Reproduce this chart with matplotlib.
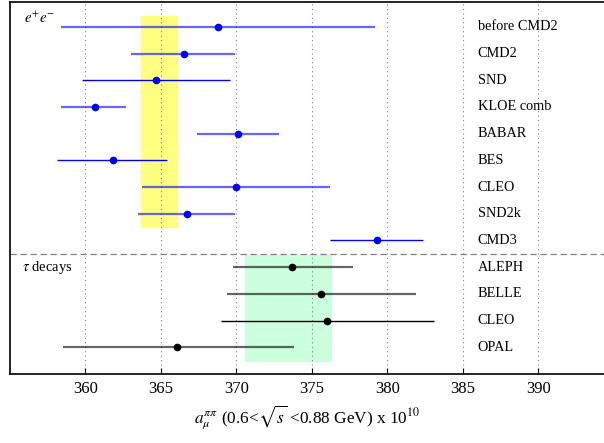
import numpy as np
import matplotlib.pyplot as plt

plt.rcParams['font.family'] = ['Liberation Serif', 'DejaVu Serif']
plt.rcParams['mathtext.fontset'] = 'stix'

# e+e- measurements
ee_names = ['before CMD2', 'CMD2', 'SND', 'KLOE comb', 'BABAR', 'BES', 'CLEO', 'SND2k', 'CMD3']
ee_val = [368.8, 366.5, 364.7, 360.6, 370.1, 361.8, 370.0, 366.7, 379.3]
ee_lo = [358.4, 363.05, 359.75, 358.4, 367.4, 358.1, 363.75, 363.45, 376.2]
ee_hi = [379.2, 369.9, 369.6, 362.7, 372.8, 365.4, 376.2, 369.9, 382.4]

# tau decay measurements
tau_names = ['ALEPH', 'BELLE', 'CLEO', 'OPAL']
tau_val = [373.7, 375.6, 376.0, 366.1]
tau_lo = [369.8, 369.4, 369.0, 358.5]
tau_hi = [377.7, 381.9, 383.1, 373.8]

ee_band = [363.7, 366.1]
tau_band = [370.6, 376.3]

fig = plt.figure(figsize=(6.04, 4.43), dpi=100)
ax = fig.add_axes([0.0166, 0.1558, 0.9834, 0.8397])

ax.axvspan(ee_band[0], ee_band[1], ymin=1 - (-0.41 + 0.93) / 13.93, ymax=1 - (7.49 + 0.93) / 13.93,
           color='#ffff80', zorder=0)
ax.axvspan(tau_band[0], tau_band[1], ymin=1 - (8.55 + 0.93) / 13.93, ymax=1 - (12.5 + 0.93) / 13.93,
           color='#ccffdd', zorder=0)

faded = [True, True, False, True, True, False, True, True, False]
for i in range(len(ee_names)):
    ax.plot([ee_lo[i], ee_hi[i]], [i, i], color='blue', lw=1.6 if faded[i] else 1.0,
            alpha=0.6 if faded[i] else 1.0, zorder=2, solid_capstyle='butt')
    ax.plot(ee_val[i], i, 'o', color='blue', ms=4.5, zorder=3)
    ax.text(386.0, i, ee_names[i], va='center', ha='left', fontsize=10.3)

tfaded = [True, True, False, True]
for j in range(len(tau_names)):
    y = len(ee_names) + j
    ax.plot([tau_lo[j], tau_hi[j]], [y, y], color='black', lw=1.6 if tfaded[j] else 1.0,
            alpha=0.6 if tfaded[j] else 1.0, zorder=2, solid_capstyle='butt')
    ax.plot(tau_val[j], y, 'o', color='black', ms=4.5, zorder=3)
    ax.text(386.0, y, tau_names[j], va='center', ha='left', fontsize=10.3)

ax.axhline(len(ee_names) - 0.5, color='gray', ls=(0, (5, 3)), lw=0.9)

ax.text(355.9, -0.3, r'$e^{+}e^{-}$', fontsize=10.5, va='center', ha='left')
ax.text(355.8, 9.0, r'$\tau$ decays', fontsize=10.5, va='center', ha='left')

ax.set_xlim(355.0, 394.37)
ax.set_ylim(13.0, -0.93)
ax.set_xticks(np.arange(360, 391, 5))
ax.set_yticks([])
ax.grid(axis='x', color='gray', ls=(0, (1, 3)), lw=0.8)
ax.set_axisbelow(True)
ax.tick_params(axis='x', direction='in', length=4, labelsize=12, pad=5)
ax.spines['right'].set_visible(False)
for s in ['left', 'top', 'bottom']:
    ax.spines[s].set_linewidth(1.2)

ax.set_xlabel(r'$a_\mu^{\pi\pi}$ (0.6<$\sqrt{s}$ <0.88 GeV) x 10$^{10}$', fontsize=12.4, labelpad=5)

fig.savefig('out.png', dpi=100)
